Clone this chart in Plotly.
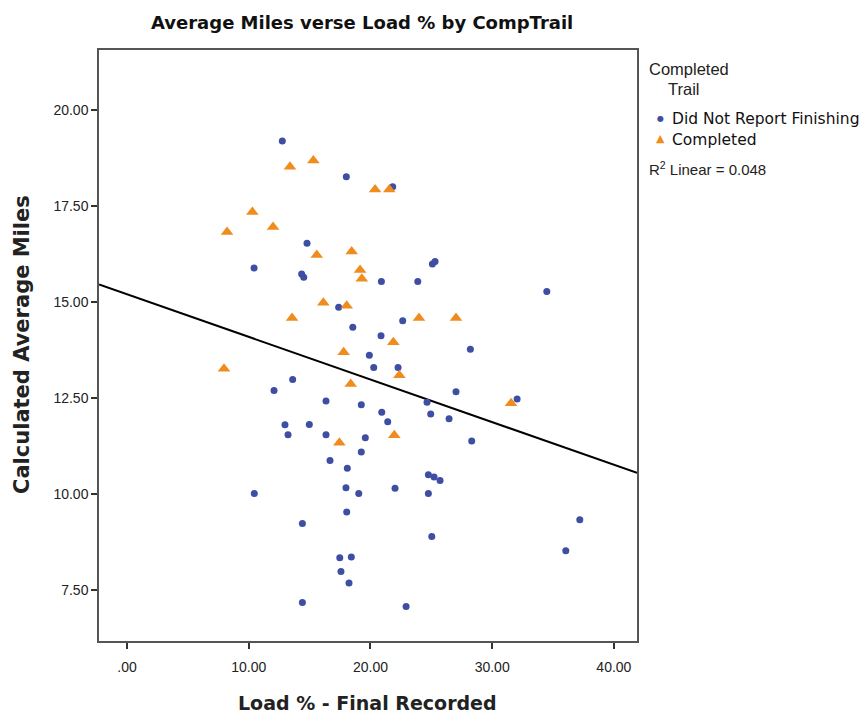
import numpy as np
import plotly.graph_objects as go

# Load % (final recorded) and calculated average miles, by trail completion status
dnf_load = [10.44, 12.76, 18.02, 21.83, 14.79, 14.35, 14.52, 20.90, 23.89, 25.09,
            25.31, 34.49, 12.08, 17.39, 22.65, 18.55, 20.87, 19.91, 20.27, 22.27,
            13.61, 16.35, 19.25, 24.65, 20.93, 24.95, 21.42, 26.46, 12.98, 14.98,
            13.23, 16.35, 19.58, 19.25, 16.68, 18.10, 28.21, 27.03, 32.05, 28.32,
            10.46, 17.99, 19.04, 22.02, 24.76, 25.23, 25.72, 24.76, 18.05, 14.41,
            25.04, 17.48, 18.43, 17.58, 18.24, 14.41, 22.93, 37.20, 36.05]
dnf_miles = [15.88, 19.19, 18.26, 18.00, 16.53, 15.73, 15.64, 15.53, 15.53, 15.99,
             16.05, 15.27, 12.69, 14.86, 14.51, 14.34, 14.12, 13.61, 13.29, 13.29,
             12.98, 12.42, 12.32, 12.39, 12.13, 12.08, 11.88, 11.96, 11.80, 11.81,
             11.54, 11.54, 11.46, 11.09, 10.87, 10.67, 13.77, 12.66, 12.47, 11.38,
             10.01, 10.16, 10.01, 10.15, 10.50, 10.44, 10.35, 10.01, 9.53, 9.23,
             8.89, 8.34, 8.36, 7.98, 7.68, 7.17, 7.07, 9.33, 8.52]

comp_load = [8.22, 10.30, 12.00, 13.39, 15.31, 20.38, 21.55, 15.59, 18.46, 19.15,
             19.29, 16.13, 18.05, 13.56, 23.99, 21.88, 17.80, 22.38, 18.38, 21.96,
             17.45, 7.97, 27.03, 31.55]
comp_miles = [16.82, 17.34, 16.95, 18.52, 18.68, 17.93, 17.93, 16.22, 16.31, 15.83,
              15.60, 14.98, 14.90, 14.58, 14.58, 13.95, 13.69, 13.09, 12.86, 11.53,
              11.33, 13.26, 14.58, 12.36]

# Fit line over all cases (intercept, slope) and its R-squared label
fit_intercept = 15.20
fit_slope = -0.111
r2_label = "R<sup>2</sup> Linear = 0.048"

x_ticks = [0, 10, 20, 30, 40]
x_tick_text = [".00", "10.00", "20.00", "30.00", "40.00"]
y_ticks = [7.5, 10, 12.5, 15, 17.5, 20]
y_tick_text = ["7.50", "10.00", "12.50", "15.00", "17.50", "20.00"]
x_range = [-2.3, 41.9]
y_range = [6.17, 21.56]

BLUE = "#3d4ea3"
ORANGE = "#ef8c1d"

fit_x = np.array(x_range)
fit_y = fit_intercept + fit_slope * fit_x

fig = go.Figure()
fig.add_trace(go.Scatter(x=fit_x, y=fit_y, mode="lines",
                         line=dict(color="black", width=2), showlegend=False,
                         hoverinfo="skip"))
fig.add_trace(go.Scatter(x=dnf_load, y=dnf_miles, mode="markers",
                         name="Did Not Report Finishing",
                         marker=dict(symbol="circle", size=7, color=BLUE),
                         showlegend=False))
fig.add_trace(go.Scatter(x=comp_load, y=comp_miles, mode="markers",
                         name="Completed",
                         marker=dict(symbol="triangle-up", size=11, color=ORANGE),
                         showlegend=False))

W, H = 866, 714
L, R, T, B = 99, 637, 50, 641
PW, PH = R - L, B - T


def px(xp):
    return (xp - L) / PW


def py(yp):
    return (B - yp) / PH


def label(text, x, y, anchor="left", size=14, family="Liberation Sans",
          color="#222", angle=0):
    return dict(text=text, x=px(x), y=py(y), xref="paper", yref="paper",
                showarrow=False, xanchor=anchor, yanchor="middle", textangle=angle,
                font=dict(family=family, size=size, color=color))


ann = [
    label("<b>Average Miles verse Load % by CompTrail</b>", 362, 22, "center", 18,
          "DejaVu Sans", "#111"),
    label("<b>Load % - Final Recorded</b>", 367, 703, "center", 19, "DejaVu Sans", "#222"),
    label("<b>Calculated Average Miles</b>", 22, 345, "center", 21, "DejaVu Sans",
          "#222", -90),
    # legend block
    label("Completed", 647, 69, "left", 16.5),
    label("Trail", 684, 89, "center", 16.5),
    label("●", 660, 118, "center", 8, "DejaVu Sans", BLUE),
    label("▲", 660, 138, "center", 11, "DejaVu Sans", ORANGE),
    label("Did Not Report Finishing", 670, 119, "left", 15.5, "DejaVu Sans", "#111"),
    label("Completed", 670, 140, "left", 15.5, "DejaVu Sans", "#111"),
    label(r2_label, 647, 168, "left", 15),
]

axis_common = dict(showgrid=False, zeroline=False, showline=True, mirror=True,
                   linecolor="#555", linewidth=1.5, ticks="outside", ticklen=6,
                   tickcolor="#333", tickwidth=1.5,
                   tickfont=dict(family="Liberation Sans", size=14, color="#222"))

fig.update_layout(
    width=W, height=H,
    margin=dict(l=L, r=W - R, t=T, b=H - B, pad=0),
    paper_bgcolor="white", plot_bgcolor="white",
    xaxis=dict(range=x_range, tickvals=x_ticks, ticktext=x_tick_text,
               ticklabelstandoff=6, **axis_common),
    yaxis=dict(range=y_range, tickvals=y_ticks, ticktext=y_tick_text, **axis_common),
    annotations=ann,
    showlegend=False,
)

fig.write_html("out.html")
